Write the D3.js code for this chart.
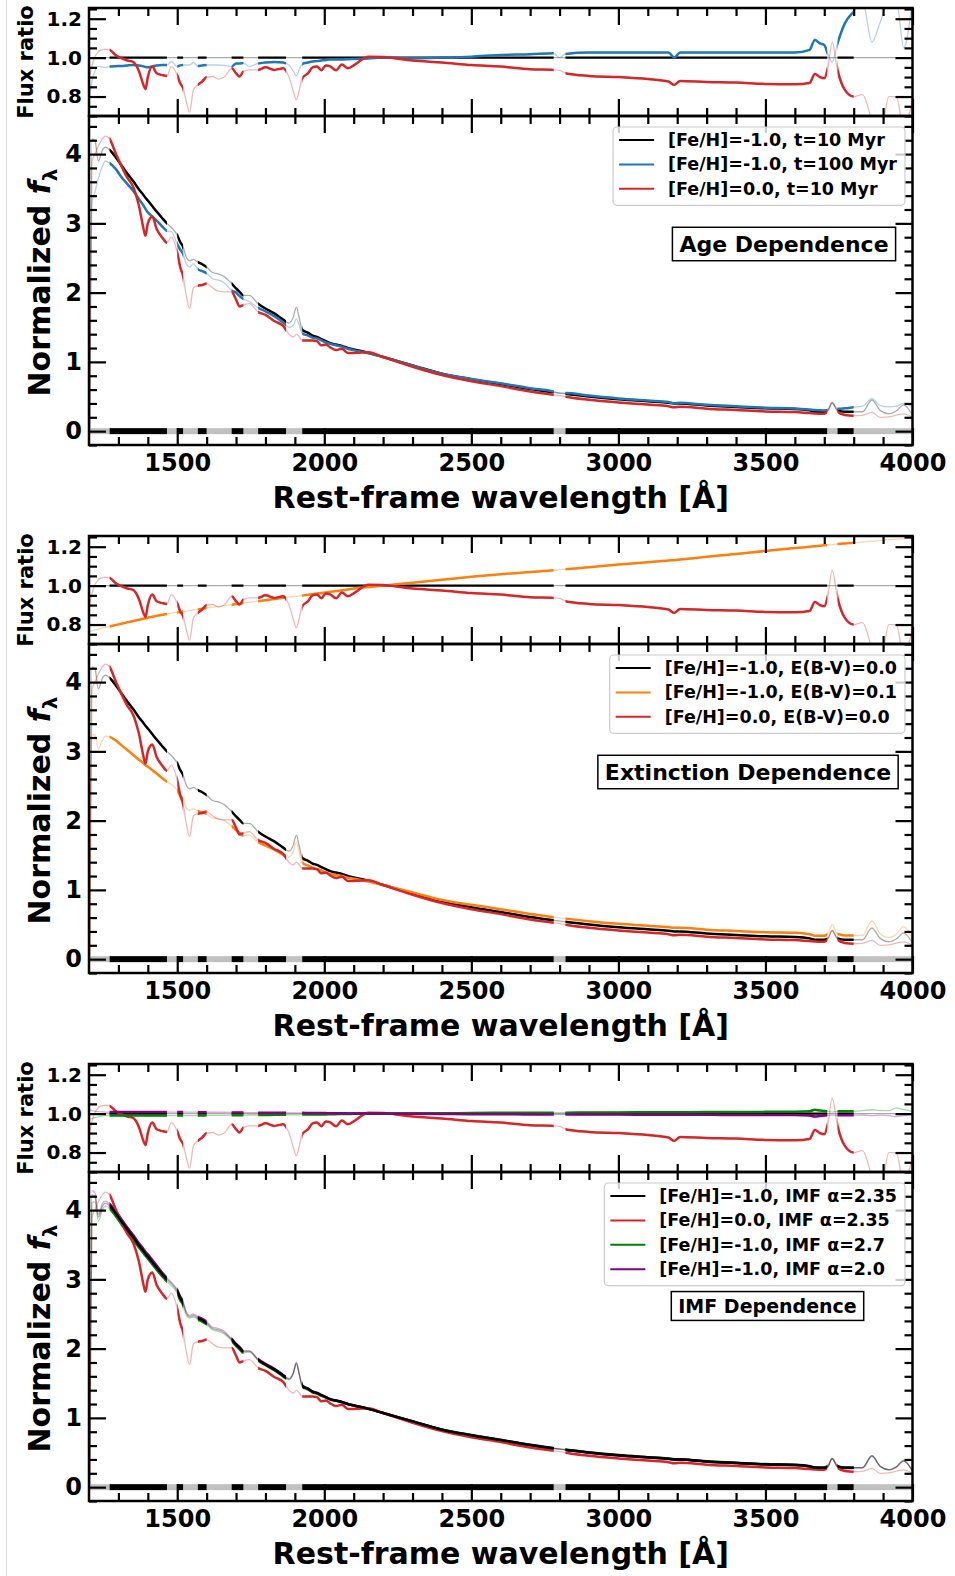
<!DOCTYPE html>
<html>
<head>
<meta charset="utf-8">
<script src="https://cdn.jsdelivr.net/npm/d3@7"></script>
<style>
body { margin: 0; background: #fff; }
svg { display: block; font-family: "DejaVu Sans", sans-serif; font-weight: bold; }
</style>
</head>
<body>
<script>
// wavelength grid (Angstrom) shared by every curve
var wave = [1202,1210,1220,1232,1245,1256,1270,1290,1310,1330,
  1350,1370,1385,1392,1400,1415,1430,1450,1465,1480,
  1500,1510,1520,1530,1542,1555,1570,1585,1600,1620,
  1640,1660,1685,1700,1712,1725,1745,1775,1800,1830,
  1860,1880,1895,1905,1915,1925,1945,1960,1975,1990,
  2005,2020,2040,2060,2080,2100,2150,2200,2300,2400,
  2500,2600,2700,2780,2800,2820,2900,3000,3100,3170,
  3190,3210,3300,3400,3500,3600,3650,3668,3685,3700,
  3712,3727,3745,3770,3800,3830,3862,3890,3920,3945,3970,4000];

// [Fe/H]=-1.0, t=10 Myr, E(B-V)=0.0, IMF 2.35 (reference model)
var fluxBase = [0.00,4.22,4.20,3.90,4.05,4.10,4.06,3.96,3.84,3.72,
  3.61,3.49,3.41,3.37,3.33,3.25,3.17,3.07,3.00,2.94,
  2.83,2.73,2.66,2.52,2.46,2.48,2.44,2.41,2.37,2.29,
  2.27,2.23,2.13,2.06,2.01,1.96,1.96,1.84,1.77,1.70,
  1.61,1.56,1.65,1.79,1.63,1.46,1.42,1.38,1.36,1.33,
  1.30,1.27,1.25,1.23,1.20,1.18,1.13,1.07,0.95,0.83,
  0.75,0.68,0.61,0.56,0.55,0.54,0.50,0.46,0.43,0.41,
  0.40,0.40,0.37,0.35,0.33,0.32,0.30,0.28,0.28,0.28,
  0.30,0.41,0.30,0.28,0.28,0.28,0.45,0.30,0.25,0.29,0.38,0.23];

// [Fe/H]=0.0, t=10 Myr
var fluxMetal = [0.00,3.90,4.00,4.12,4.22,4.26,4.22,4.02,3.83,3.66,
  3.53,3.25,2.93,2.82,3.00,3.10,2.92,2.79,2.72,2.80,
  2.58,2.37,2.24,1.97,1.77,2.07,2.10,2.11,2.13,2.07,
  2.02,2.01,2.01,1.90,1.80,1.82,1.84,1.72,1.68,1.59,
  1.52,1.40,1.36,1.40,1.36,1.31,1.31,1.31,1.30,1.24,
  1.25,1.21,1.17,1.19,1.13,1.13,1.14,1.07,0.93,0.81,
  0.72,0.65,0.573,0.525,0.514,0.497,0.453,0.414,0.383,0.36,
  0.344,0.352,0.324,0.305,0.285,0.276,0.261,0.256,0.252,0.25,
  0.284,0.42,0.28,0.234,0.224,0.227,0.27,0.20,0.205,0.23,0.25,0.20];
var ratioMetal = [0.90,0.96,1.005,1.03,1.04,1.043,1.04,1.014,0.997,0.985,
  0.978,0.93,0.86,0.838,0.90,0.954,0.92,0.91,0.906,0.954,
  0.91,0.868,0.843,0.78,0.72,0.834,0.86,0.877,0.90,0.903,
  0.89,0.90,0.945,0.92,0.903,0.928,0.937,0.937,0.95,0.937,
  0.945,0.90,0.826,0.783,0.834,0.894,0.92,0.95,0.955,0.935,
  0.96,0.955,0.935,0.965,0.945,0.96,1.005,1.003,0.985,0.975,
  0.962,0.954,0.94,0.937,0.935,0.92,0.906,0.90,0.89,0.877,
  0.86,0.88,0.875,0.872,0.865,0.863,0.87,0.916,0.90,0.894,
  0.945,1.08,0.937,0.834,0.80,0.81,0.68,0.60,0.80,0.80,0.64,0.78];

// [Fe/H]=-1.0, t=100 Myr
var fluxOld = [0.00,3.30,3.45,3.65,3.82,3.90,3.87,3.79,3.67,3.57,
  3.47,3.35,3.26,3.21,3.16,3.10,3.04,2.95,2.89,2.88,
  2.70,2.62,2.56,2.42,2.37,2.42,2.34,2.31,2.28,2.20,
  2.18,2.14,2.03,2.00,1.95,1.91,1.87,1.78,1.73,1.66,
  1.57,1.50,1.53,1.62,1.53,1.41,1.38,1.35,1.34,1.31,
  1.28,1.26,1.24,1.22,1.19,1.17,1.125,1.07,0.947,0.83,
  0.754,0.69,0.62,0.572,0.55,0.55,0.513,0.472,0.441,0.42,
  0.40,0.41,0.38,0.359,0.339,0.328,0.312,0.305,0.30,0.298,
  0.306,0.40,0.322,0.33,0.346,0.36,0.47,0.37,0.35,0.36,0.40,0.35];
var ratioOld = [0.80,0.88,0.93,0.955,0.952,0.95,0.954,0.956,0.957,0.96,
  0.962,0.96,0.955,0.952,0.95,0.955,0.96,0.962,0.962,0.98,
  0.954,0.96,0.962,0.962,0.962,0.975,0.957,0.96,0.962,0.962,
  0.962,0.96,0.954,0.97,0.97,0.972,0.954,0.97,0.975,0.978,
  0.975,0.962,0.93,0.906,0.94,0.967,0.975,0.98,0.982,0.985,
  0.988,0.99,0.99,0.99,0.992,0.993,0.996,1.0,0.997,1.0,
  1.005,1.014,1.017,1.022,1.0,1.019,1.026,1.026,1.026,1.026,
  1.0,1.026,1.026,1.026,1.026,1.026,1.04,1.09,1.073,1.065,
  1.02,0.975,1.073,1.176,1.236,1.29,1.08,1.18,1.30,1.30,1.05,1.30];

// [Fe/H]=-1.0, E(B-V)=0.1
var fluxDust = [0.00,3.24,3.24,3.03,3.16,3.22,3.21,3.16,3.09,3.02,
  2.95,2.88,2.83,2.80,2.78,2.73,2.68,2.61,2.56,2.52,
  2.44,2.36,2.31,2.19,2.15,2.17,2.14,2.12,2.10,2.04,
  2.03,2.00,1.92,1.86,1.82,1.78,1.79,1.69,1.64,1.58,
  1.51,1.47,1.56,1.69,1.54,1.39,1.35,1.32,1.30,1.28,
  1.25,1.23,1.215,1.20,1.176,1.162,1.122,1.07,0.964,0.855,
  0.784,0.72,0.653,0.604,0.595,0.585,0.548,0.51,0.482,0.463,
  0.452,0.454,0.425,0.407,0.389,0.382,0.36,0.337,0.337,0.338,
  0.363,0.497,0.364,0.341,0.342,0.343,0.553,0.37,0.31,0.36,0.47,0.287];
var ratioDust = [0.765,0.768,0.772,0.776,0.781,0.785,0.79,0.797,0.804,0.811,
  0.818,0.825,0.83,0.832,0.835,0.84,0.845,0.85,0.854,0.858,
  0.862,0.864,0.867,0.869,0.872,0.875,0.878,0.881,0.885,0.889,
  0.893,0.897,0.902,0.905,0.907,0.91,0.914,0.92,0.925,0.931,
  0.937,0.941,0.944,0.945,0.947,0.949,0.953,0.956,0.959,0.962,
  0.965,0.968,0.972,0.976,0.98,0.985,0.993,1.0,1.015,1.03,
  1.045,1.058,1.07,1.079,1.082,1.084,1.095,1.108,1.12,1.129,
  1.131,1.134,1.148,1.163,1.178,1.193,1.2,1.202,1.205,1.207,
  1.209,1.211,1.214,1.217,1.22,1.224,1.228,1.232,1.236,1.239,1.242,1.246];

// [Fe/H]=-1.0, IMF alpha=2.7
var fluxSteep = [0.00,4.11,4.12,3.84,4.00,4.06,4.02,3.92,3.80,3.68,
  3.57,3.46,3.38,3.34,3.30,3.22,3.14,3.04,2.97,2.91,
  2.80,2.70,2.63,2.49,2.44,2.46,2.42,2.39,2.35,2.27,
  2.25,2.21,2.11,2.04,1.99,1.94,1.95,1.83,1.76,1.69,
  1.60,1.55,1.64,1.78,1.62,1.45,1.41,1.37,1.35,1.32,
  1.295,1.266,1.246,1.228,1.198,1.179,1.13,1.07,0.951,0.832,
  0.752,0.683,0.612,0.563,0.553,0.543,0.503,0.463,0.433,0.413,
  0.403,0.403,0.373,0.353,0.333,0.323,0.304,0.286,0.284,0.284,
  0.304,0.413,0.304,0.283,0.283,0.284,0.459,0.305,0.254,0.299,0.388,0.233];
var ratioSteep = [0.97,0.975,0.98,0.985,0.988,0.99,0.99,0.99,0.99,0.99,
  0.99,0.99,0.99,0.99,0.99,0.99,0.99,0.99,0.99,0.99,
  0.99,0.99,0.99,0.99,0.99,0.99,0.99,0.99,0.991,0.991,
  0.991,0.991,0.992,0.992,0.992,0.992,0.993,0.993,0.993,0.994,
  0.994,0.994,0.994,0.994,0.994,0.995,0.995,0.995,0.996,0.996,
  0.996,0.997,0.997,0.998,0.998,0.999,1.0,1.0,1.001,1.002,
  1.003,1.004,1.004,1.005,1.005,1.005,1.006,1.006,1.007,1.007,
  1.007,1.007,1.008,1.008,1.009,1.01,1.012,1.02,1.016,1.014,
  1.012,1.008,1.012,1.012,1.012,1.015,1.02,1.016,1.015,1.03,1.02,1.012];

// [Fe/H]=-1.0, IMF alpha=2.0
var fluxFlat = [0.00,4.28,4.25,3.94,4.09,4.13,4.09,3.99,3.87,3.75,
  3.64,3.52,3.44,3.40,3.36,3.28,3.20,3.09,3.02,2.96,
  2.85,2.75,2.68,2.54,2.48,2.50,2.46,2.43,2.39,2.31,
  2.29,2.25,2.14,2.07,2.02,1.97,1.97,1.85,1.78,1.71,
  1.62,1.57,1.66,1.80,1.64,1.47,1.42,1.38,1.36,1.33,
  1.30,1.27,1.25,1.23,1.20,1.18,1.13,1.07,0.949,0.828,
  0.748,0.678,0.608,0.558,0.548,0.538,0.498,0.458,0.427,0.408,
  0.398,0.398,0.368,0.348,0.328,0.318,0.297,0.276,0.277,0.277,
  0.297,0.408,0.297,0.278,0.278,0.278,0.446,0.298,0.248,0.286,0.376,0.229];
var ratioFlat = [1.02,1.015,1.012,1.01,1.009,1.008,1.008,1.008,1.008,1.008,
  1.008,1.008,1.008,1.008,1.008,1.008,1.008,1.008,1.008,1.008,
  1.008,1.008,1.008,1.008,1.008,1.008,1.007,1.007,1.007,1.007,
  1.007,1.007,1.006,1.006,1.006,1.006,1.005,1.005,1.005,1.005,
  1.004,1.004,1.004,1.004,1.004,1.004,1.003,1.003,1.003,1.003,
  1.003,1.002,1.002,1.002,1.001,1.001,1.0,1.0,0.999,0.998,
  0.997,0.997,0.996,0.996,0.996,0.996,0.995,0.995,0.994,0.994,
  0.994,0.994,0.994,0.993,0.993,0.993,0.99,0.985,0.988,0.99,
  0.991,0.994,0.991,0.992,0.992,0.993,0.99,0.992,0.99,0.985,0.99,0.995];

// wavelength windows: used in the fit (bold) vs masked (faint)
var goodRanges = [[1270,1465],[1500,1520],[1570,1600],[1685,1725],[1775,1870],[1925,2780],[2820,3710],[3745,3800]];
var maskedRanges = [[1200,1270],[1465,1500],[1520,1570],[1600,1685],[1725,1775],[1870,1925],[2780,2820],[3710,3745],[3800,4000]];

var xMajor = [1500, 2000, 2500, 3000, 3500, 4000];
var yMajor = [0, 1, 2, 3, 4];
var rMajor = [0.8, 1.0, 1.2];

var BLACK = "#000000", BLUE = "#1f77b4", RED = "#d62728", ORANGE = "#ff7f0e", GREEN = "#008000", PURPLE = "#800080";

var panels = [
  { off: 0,
    fluxes: [{v: fluxBase, c: BLACK}, {v: fluxOld, c: BLUE}, {v: fluxMetal, c: RED}],
    ratios: [{v: ratioOld, c: BLUE}, {v: ratioMetal, c: RED}],
    legend: [{t: "[Fe/H]=-1.0, t=10 Myr", c: BLACK}, {t: "[Fe/H]=-1.0, t=100 Myr", c: BLUE}, {t: "[Fe/H]=0.0, t=10 Myr", c: RED}],
    note: "Age Dependence", noteX: 784, noteY: 244, noteSize: 22 },
  { off: 528,
    fluxes: [{v: fluxBase, c: BLACK}, {v: fluxDust, c: ORANGE}, {v: fluxMetal, c: RED}],
    ratios: [{v: ratioDust, c: ORANGE}, {v: ratioMetal, c: RED}],
    legend: [{t: "[Fe/H]=-1.0, E(B-V)=0.0", c: BLACK}, {t: "[Fe/H]=-1.0, E(B-V)=0.1", c: ORANGE}, {t: "[Fe/H]=0.0, E(B-V)=0.0", c: RED}],
    note: "Extinction Dependence", noteX: 748, noteY: 244, noteSize: 22 },
  { off: 1056,
    fluxes: [{v: fluxSteep, c: GREEN}, {v: fluxFlat, c: PURPLE}, {v: fluxMetal, c: RED}, {v: fluxBase, c: BLACK}],
    ratios: [{v: ratioMetal, c: RED}, {v: ratioSteep, c: GREEN}, {v: ratioFlat, c: PURPLE}],
    legend: [{t: "[Fe/H]=-1.0, IMF α=2.35", c: BLACK}, {t: "[Fe/H]=0.0, IMF α=2.35", c: RED}, {t: "[Fe/H]=-1.0, IMF α=2.7", c: GREEN}, {t: "[Fe/H]=-1.0, IMF α=2.0", c: PURPLE}],
    note: "IMF Dependence", noteX: 767.5, noteY: 250, noteSize: 19 }
];

var W = 955, H = 1576;
var svg = d3.select("body").append("svg").attr("width", W).attr("height", H);
svg.append("rect").attr("width", W).attr("height", H).attr("fill", "#fff");
svg.append("line").attr("x1", 6.5).attr("x2", 6.5).attr("y1", 0).attr("y2", H)
  .attr("stroke", "#dedede").attr("stroke-width", 1);

var x = d3.scaleLinear().domain([1200, 4000]).range([89, 912.5]);
var yR = d3.scaleLinear().domain([0.7, 1.255]).range([116, 8]);
var yM = d3.scaleLinear().domain([-0.2, 4.55]).range([445, 116]);

var xMinor = d3.range(1300, 4000, 100).filter(function(v){ return v % 500 !== 0; });
var yMinor = d3.range(-1, 23).map(function(k){ return +(k * 0.2).toFixed(1); }).filter(function(v){ return v % 1 !== 0; });
var rMinor = d3.range(14, 26).map(function(k){ return +(k * 0.05).toFixed(2); }).filter(function(v){ return rMajor.indexOf(v) < 0; });

var defs = svg.append("defs");
function clip(id, y0, y1, ranges) {
  defs.append("clipPath").attr("id", id).selectAll("rect").data(ranges).enter().append("rect")
    .attr("x", function(d){ return x(d[0]); })
    .attr("width", function(d){ return x(d[1]) - x(d[0]); })
    .attr("y", y0).attr("height", y1 - y0);
}
clip("rAll", 8, 116, [[1200, 4000]]);
clip("rGood", 8, 116, goodRanges);
clip("mAll", 116, 445, [[1200, 4000]]);
clip("mGood", 116, 445, goodRanges);

// faint everywhere, bold only inside the fitted windows
function curve(g, vals, y, color, zone) {
  var line = d3.line()
    .x(function(d, i){ return x(wave[i]); })
    .y(function(d){ return y(d); })
    .curve(d3.curveMonotoneX);
  g.append("path").attr("d", line(vals)).attr("fill", "none").attr("stroke", color)
    .attr("stroke-opacity", 0.33).attr("stroke-width", 1.3).attr("clip-path", "url(#" + zone + "All)");
  g.append("path").attr("d", line(vals)).attr("fill", "none").attr("stroke", color)
    .attr("stroke-width", 2.5).attr("stroke-linejoin", "round").attr("clip-path", "url(#" + zone + "Good)");
}

function refLine(g) {
  [["rAll", 0.33, 1.3], ["rGood", 1, 2.2]].forEach(function(s){
    g.append("line").attr("x1", x(1200)).attr("x2", x(4000)).attr("y1", yR(1)).attr("y2", yR(1))
      .attr("stroke", BLACK).attr("stroke-opacity", s[1]).attr("stroke-width", s[2])
      .attr("clip-path", "url(#" + s[0] + ")");
  });
}

function band(g) {
  var segs = maskedRanges.map(function(r){ return {r: r, c: "#c0c0c0"}; })
    .concat(goodRanges.map(function(r){ return {r: r, c: "#000"}; }));
  g.selectAll("rect.band").data(segs).enter().append("rect").attr("class", "band")
    .attr("x", function(d){ return x(d.r[0]); })
    .attr("width", function(d){ return x(d.r[1]) - x(d.r[0]); })
    .attr("y", yM(0) - 3).attr("height", 6).attr("fill", function(d){ return d.c; });
}

function tk(g, axis, vals, size, tx, ty) {
  g.append("g").attr("transform", "translate(" + tx + "," + ty + ")")
    .call(axis.tickValues(vals).tickSize(size).tickFormat(""))
    .call(function(a){
      a.select(".domain").remove();
      a.selectAll("line").attr("stroke", "#000").attr("stroke-width", 2.2);
    });
}

function frame(g, y, yMaj, yMin, top, bot, fmt, fs, xLabels) {
  var L = x.range()[0], R = x.range()[1];
  tk(g, d3.axisBottom(x), xMajor, 17, 0, top);
  tk(g, d3.axisBottom(x), xMinor, 8, 0, top);
  tk(g, d3.axisTop(x), xMajor, 17, 0, bot);
  tk(g, d3.axisTop(x), xMinor, 8, 0, bot);
  tk(g, d3.axisRight(y), yMaj, 17, L, 0);
  tk(g, d3.axisRight(y), yMin, 8, L, 0);
  tk(g, d3.axisLeft(y), yMaj, 17, R, 0);
  tk(g, d3.axisLeft(y), yMin, 8, R, 0);
  g.append("rect").attr("x", L).attr("y", top).attr("width", R - L).attr("height", bot - top)
    .attr("fill", "none").attr("stroke", "#000").attr("stroke-width", 2.5);

  g.append("g").attr("transform", "translate(" + L + ",0)")
    .call(d3.axisLeft(y).tickValues(yMaj).tickSize(0).tickPadding(7).tickFormat(d3.format(fmt)))
    .attr("font-family", "DejaVu Sans").attr("font-size", fs).attr("font-weight", "bold")
    .call(function(a){ a.select(".domain").remove(); a.selectAll("text").attr("fill", "#000"); });

  if (xLabels) {
    g.append("g").attr("transform", "translate(0," + bot + ")")
      .call(d3.axisBottom(x).tickValues(xMajor).tickSize(0).tickPadding(9).tickFormat(d3.format("d")))
      .attr("font-family", "DejaVu Sans").attr("font-size", 24).attr("font-weight", "bold")
      .call(function(a){ a.select(".domain").remove(); a.selectAll("text").attr("fill", "#000"); });
  }
}

function legend(g, items, top, right) {
  var fs = 17.5, step = 24.4;
  var lg = g.append("g");
  var box = lg.append("rect");
  var texts = lg.selectAll("text").data(items).enter().append("text")
    .attr("y", function(d, i){ return top + 13 + i * step; })
    .attr("dominant-baseline", "central").attr("font-size", fs).attr("fill", "#000")
    .text(function(d){ return d.t; });
  var tw = d3.max(texts.nodes(), function(n){ return n.getComputedTextLength(); });
  var tx = right - 8 - tw;
  texts.attr("x", tx);
  lg.selectAll("line").data(items).enter().append("line")
    .attr("x1", tx - 14 - 35).attr("x2", tx - 14)
    .attr("y1", function(d, i){ return top + 13 + i * step; })
    .attr("y2", function(d, i){ return top + 13 + i * step; })
    .attr("stroke", function(d){ return d.c; }).attr("stroke-width", 2);
  var left = tx - 14 - 35 - 6;
  box.attr("x", left).attr("y", top).attr("width", right - left)
    .attr("height", 13 + (items.length - 1) * step + 16.5).attr("rx", 4)
    .attr("fill", "#fff").attr("fill-opacity", 0.8).attr("stroke", "#cccccc").attr("stroke-width", 1.2);
}

function note(g, p) {
  var t = g.append("text").attr("x", p.noteX).attr("y", p.noteY)
    .attr("text-anchor", "middle").attr("dominant-baseline", "central")
    .attr("font-size", p.noteSize).attr("fill", "#000").text(p.note);
  var w = t.node().getComputedTextLength();
  var h = p.noteSize * 1.52;
  g.insert("rect", function(){ return t.node(); })
    .attr("x", p.noteX - w / 2 - 7).attr("y", p.noteY - h / 2)
    .attr("width", w + 14).attr("height", h)
    .attr("fill", "#fff").attr("stroke", "#000").attr("stroke-width", 1.5);
}

panels.forEach(function(p){
  var g = svg.append("g").attr("transform", "translate(0," + p.off + ")");

  // ratio panel
  var gr = g.append("g");
  refLine(gr);
  p.ratios.forEach(function(s){ curve(gr, s.v, yR, s.c, "r"); });

  // spectrum panel
  var gm = g.append("g");
  p.fluxes.forEach(function(s){ curve(gm, s.v, yM, s.c, "m"); });
  band(gm);

  frame(g, yR, rMajor, rMinor, 8, 116, ".1f", 20, false);
  frame(g, yM, yMajor, yMinor, 116, 445, "d", 24, true);

  g.append("text").attr("transform", "translate(33,62) rotate(-90)")
    .attr("text-anchor", "middle").attr("font-size", 21).attr("fill", "#000").text("Flux ratio");

  var yl = g.append("text").attr("transform", "translate(50,282.5) rotate(-90)")
    .attr("text-anchor", "middle").attr("font-size", 30).attr("fill", "#000");
  yl.append("tspan").text("Normalized ");
  yl.append("tspan").attr("font-style", "italic").text("f");
  yl.append("tspan").attr("font-size", 20).attr("dy", 7).text("λ");

  g.append("text").attr("x", (x.range()[0] + x.range()[1]) / 2).attr("y", 508)
    .attr("text-anchor", "middle").attr("font-size", 30).attr("fill", "#000")
    .text("Rest-frame wavelength [Å]");

  legend(g, p.legend, 127, 905);
  note(g, p);
});
</script>
</body>
</html>
